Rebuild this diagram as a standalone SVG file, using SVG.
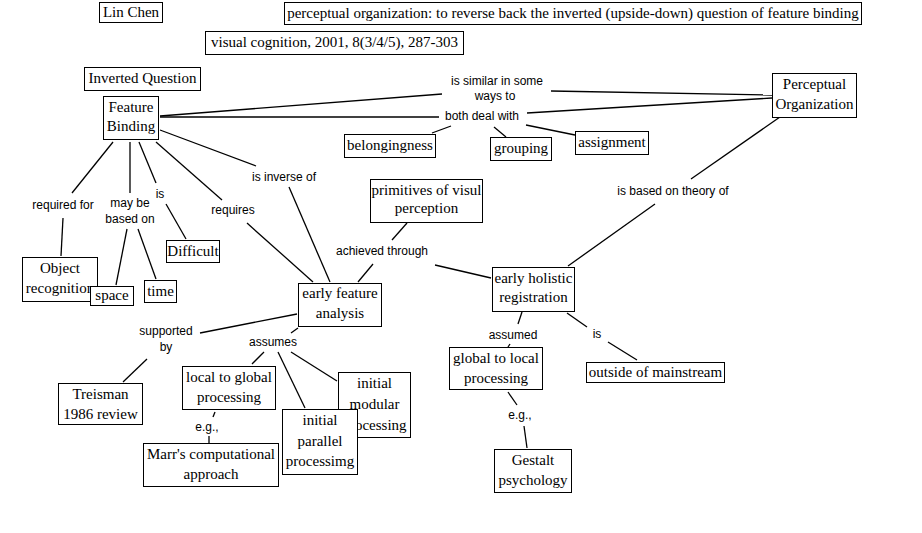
<svg xmlns="http://www.w3.org/2000/svg" width="922" height="533" viewBox="0 0 922 533">
<style>
.n rect{fill:#fff;stroke:#000;stroke-width:1}
.n text{font-family:"Liberation Serif","Times New Roman",serif;font-size:15px;fill:#000;text-anchor:middle}
.c line{stroke:#000;stroke-width:1.3}
.l{font-family:"Liberation Sans",Arial,sans-serif;font-size:12px;fill:#000;text-anchor:middle}
</style>
<rect width="922" height="533" fill="#fff"/>
<g class="c" id="connectors">
<line x1="160" y1="116" x2="442" y2="94"/>
<line x1="551" y1="91" x2="772" y2="95"/>
<line x1="160" y1="117" x2="439" y2="117"/>
<line x1="527" y1="113" x2="772" y2="98"/>
<line x1="451" y1="126" x2="432" y2="133"/>
<line x1="494" y1="127" x2="506" y2="137"/>
<line x1="526" y1="125" x2="575" y2="135"/>
<line x1="780" y1="117" x2="691" y2="179"/>
<line x1="655" y1="204" x2="568" y2="266"/>
<line x1="407" y1="223" x2="392" y2="240"/>
<line x1="373" y1="264" x2="358" y2="282"/>
<line x1="435" y1="265" x2="491" y2="278"/>
<line x1="160" y1="130" x2="256" y2="166"/>
<line x1="289" y1="187" x2="330" y2="282"/>
<line x1="156" y1="142" x2="222" y2="200"/>
<line x1="247" y1="223" x2="313" y2="282"/>
<line x1="139" y1="142" x2="156" y2="183"/>
<line x1="166" y1="204" x2="186" y2="239"/>
<line x1="130" y1="142" x2="130" y2="193"/>
<line x1="127" y1="229" x2="116" y2="285"/>
<line x1="138" y1="229" x2="156" y2="279"/>
<line x1="113" y1="142" x2="72" y2="193"/>
<line x1="63" y1="218" x2="61" y2="256"/>
<line x1="297" y1="314" x2="200" y2="333"/>
<line x1="147" y1="359" x2="123" y2="382"/>
<line x1="298" y1="328" x2="291" y2="333"/>
<line x1="264" y1="352" x2="252" y2="364"/>
<line x1="278" y1="352" x2="305" y2="408"/>
<line x1="291" y1="352" x2="337" y2="381"/>
<line x1="215" y1="412" x2="213" y2="417"/>
<line x1="209" y1="436" x2="209" y2="443"/>
<line x1="522" y1="312" x2="518" y2="324"/>
<line x1="510" y1="344" x2="508" y2="347"/>
<line x1="508" y1="392" x2="517" y2="405"/>
<line x1="524" y1="426" x2="527" y2="448"/>
<line x1="567" y1="313" x2="587" y2="327"/>
<line x1="608" y1="342" x2="637" y2="360"/>
</g>
<g id="labels">
<text class="l" x="497" y="85">is similar in some</text>
<text class="l" x="495" y="100">ways to</text>
<text class="l" x="482" y="120">both deal with</text>
<text class="l" x="673" y="195">is based on theory of</text>
<text class="l" x="382" y="255">achieved through</text>
<text class="l" x="284" y="181">is inverse of</text>
<text class="l" x="233" y="214">requires</text>
<text class="l" x="160" y="198">is</text>
<text class="l" x="130" y="207">may be</text>
<text class="l" x="130" y="223">based on</text>
<text class="l" x="63" y="209">required for</text>
<text class="l" x="166" y="335">supported</text>
<text class="l" x="166" y="351">by</text>
<text class="l" x="273" y="346">assumes</text>
<text class="l" x="207" y="431">e.g.,</text>
<text class="l" x="513" y="339">assumed</text>
<text class="l" x="520" y="419">e.g.,</text>
<text class="l" x="597" y="338">is</text>
</g>
<g class="n" id="lin-chen"><rect x="99.5" y="2.5" width="63" height="20"/><text x="131" y="17">Lin Chen</text></g>
<g class="n" id="title"><rect x="284.5" y="2.5" width="577" height="22"/><text x="573" y="18">perceptual organization: to reverse back the inverted (upside-down) question of feature binding</text></g>
<g class="n" id="citation"><rect x="205.5" y="31.5" width="258" height="23"/><text x="334.5" y="47">visual cognition, 2001, 8(3/4/5), 287-303</text></g>
<g class="n" id="inverted-question"><rect x="84.5" y="67.5" width="116" height="23"/><text x="142.5" y="83">Inverted Question</text></g>
<g class="n" id="feature-binding"><rect x="103.5" y="96.5" width="55" height="43"/><text x="131" y="112">Feature</text><text x="131" y="131">Binding</text></g>
<g class="n" id="belongingness"><rect x="344.5" y="134.5" width="91" height="23"/><text x="390" y="150">belongingness</text></g>
<g class="n" id="grouping"><rect x="490.5" y="137.5" width="61" height="23"/><text x="521" y="153">grouping</text></g>
<g class="n" id="assignment"><rect x="575.5" y="131.5" width="73" height="23"/><text x="612" y="147">assignment</text></g>
<g class="n" id="perceptual-organization"><rect x="772.5" y="73.5" width="84" height="44"/><text x="814.5" y="89">Perceptual</text><text x="814.5" y="109">Organization</text></g>
<g class="n" id="primitives"><rect x="370.5" y="179.5" width="112" height="43"/><text x="426.5" y="195">primitives of visul</text><text x="426.5" y="213">perception</text></g>
<g class="n" id="early-holistic"><rect x="492.5" y="267.5" width="82" height="44"/><text x="533.5" y="283">early holistic</text><text x="533.5" y="302">registration</text></g>
<g class="n" id="early-feature"><rect x="298.5" y="283.5" width="83" height="43"/><text x="340" y="298">early feature</text><text x="340" y="318">analysis</text></g>
<g class="n" id="difficult"><rect x="166.5" y="240.5" width="53" height="22"/><text x="193" y="256">Difficult</text></g>
<g class="n" id="object-recognition"><rect x="22.5" y="257.5" width="75" height="44"/><text x="60" y="273">Object</text><text x="60" y="293">recognition</text></g>
<g class="n" id="space"><rect x="90.5" y="286.5" width="43" height="19"/><text x="112" y="300">space</text></g>
<g class="n" id="time"><rect x="144.5" y="280.5" width="32" height="22"/><text x="160.5" y="296">time</text></g>
<g class="n" id="treisman"><rect x="58.5" y="383.5" width="84" height="41"/><text x="100.5" y="399">Treisman</text><text x="100.5" y="419">1986 review</text></g>
<g class="n" id="local-to-global"><rect x="182.5" y="366.5" width="93" height="43"/><text x="229" y="382">local to global</text><text x="229" y="402">processing</text></g>
<g class="n" id="marr"><rect x="143.5" y="443.5" width="135" height="43"/><text x="211" y="459">Marr's computational</text><text x="211" y="479">approach</text></g>
<g class="n" id="initial-modular"><rect x="338.5" y="372.5" width="72" height="65"/><text x="374.5" y="388">initial</text><text x="374.5" y="409">modular</text><text x="374.5" y="430">processing</text></g>
<g class="n" id="initial-parallel"><rect x="282.5" y="409.5" width="75" height="65"/><text x="320" y="425">initial</text><text x="320" y="446">parallel</text><text x="320" y="466">processimg</text></g>
<g class="n" id="global-to-local"><rect x="449.5" y="347.5" width="93" height="42"/><text x="496" y="363">global to local</text><text x="496" y="383">processing</text></g>
<g class="n" id="gestalt"><rect x="494.5" y="449.5" width="77" height="43"/><text x="533" y="465">Gestalt</text><text x="533" y="485">psychology</text></g>
<g class="n" id="outside-mainstream"><rect x="586.5" y="362.5" width="138" height="20"/><text x="655.5" y="377">outside of mainstream</text></g>
</svg>
